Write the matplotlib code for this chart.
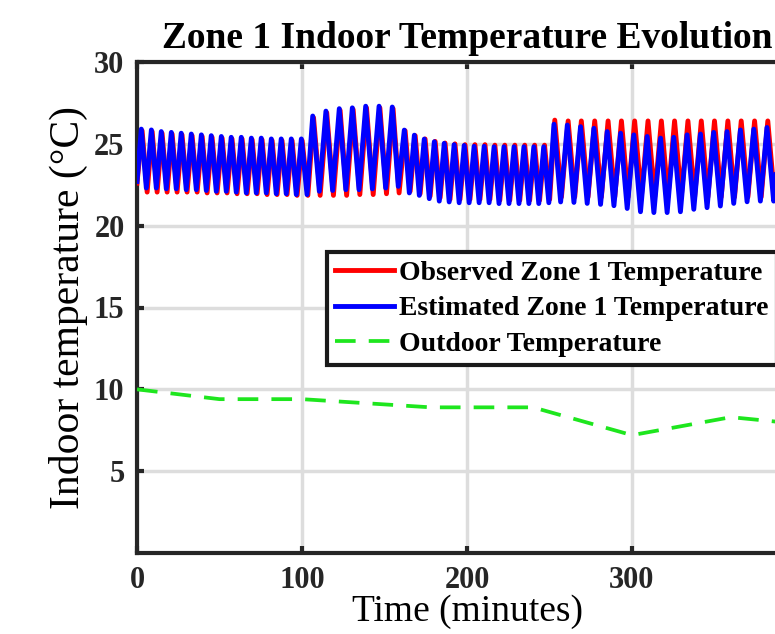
import matplotlib
matplotlib.use("Agg")
import matplotlib.pyplot as plt

plt.rcParams['font.family'] = ['Liberation Serif', 'DejaVu Serif']

# times (minutes) of each oscillation peak
peak_t = [2.6, 8.7, 14.7, 20.8, 26.8, 32.9, 39.0, 45.0, 51.1, 57.1, 63.2, 69.3, 75.3, 81.4, 87.4, 93.5, 99.6,
          106.5, 114.5, 122.6, 130.5, 138.6, 146.7, 154.7,
          162.0, 168.1, 174.1, 180.2, 186.2, 192.2, 198.3, 204.3, 210.4, 216.4, 222.4, 228.5, 234.5, 240.5, 246.5,
          252.7, 260.8, 268.8, 276.9, 285.0, 293.1, 301.1, 309.2, 317.3, 325.3, 333.4, 341.5, 349.5, 357.6,
          365.7, 373.8, 381.8, 389.9, 398.0]

# estimated zone temperature: peak and following trough of each cycle
est_start = 22.7
est_peak = [25.9, 25.85, 25.75, 25.7, 25.65, 25.6, 25.55, 25.5, 25.45, 25.4, 25.4, 25.35, 25.35, 25.3, 25.3, 25.3, 25.3,
            26.7, 27.0, 27.15, 27.2, 27.3, 27.3, 27.25,
            25.84, 25.53, 25.29, 25.13, 25.03, 24.95, 24.9, 24.85, 24.85, 24.82, 24.82, 24.82, 24.82, 24.82, 24.82,
            26.2, 26.15, 26.05, 25.95, 25.75, 25.65, 25.55, 25.45, 25.35, 25.4, 25.55, 25.6, 25.7, 25.75,
            25.85, 25.9, 26.0, 26.1, 26.1]
est_trough = [22.3, 22.3, 22.25, 22.25, 22.2, 22.2, 22.15, 22.1, 22.1, 22.05, 22.0, 22.0, 22.0, 21.95, 21.95, 21.9, 21.9,
              22.1, 22.15, 22.2, 22.2, 22.25, 22.3, 22.4,
              22.0, 21.85, 21.65, 21.5, 21.45, 21.4, 21.4, 21.4, 21.4, 21.35, 21.35, 21.35, 21.35, 21.35, 21.4,
              21.45, 21.42, 21.36, 21.3, 21.22, 21.05, 20.85, 20.8, 20.8, 20.85, 21.0, 21.1, 21.2, 21.36,
              21.46, 21.5, 21.5, 21.55, 21.55]

# observed zone temperature (lags the estimate slightly)
obs_lag = 0.5
obs_start = 22.6
obs_peak = [25.8, 25.75, 25.65, 25.6, 25.55, 25.5, 25.45, 25.4, 25.35, 25.3, 25.3, 25.25, 25.25, 25.2, 25.2, 25.2, 25.2,
            26.6, 26.9, 27.05, 27.1, 27.2, 27.2, 27.15,
            25.8, 25.5, 25.3, 25.15, 25.05, 25.0, 24.95, 24.95, 24.95, 24.92, 24.92, 24.92, 24.92, 24.92, 24.92,
            26.45, 26.4, 26.4, 26.4, 26.4, 26.4, 26.4, 26.4, 26.4, 26.4, 26.4, 26.4, 26.4, 26.4,
            26.4, 26.4, 26.4, 26.4, 26.4]
obs_trough = [22.05, 22.05, 22.05, 22.05, 22.05, 22.05, 22.0, 22.0, 22.0, 21.95, 21.95, 21.95, 21.9, 21.9, 21.9, 21.85, 21.85,
              21.85, 21.85, 21.85, 21.9, 21.9, 21.95, 22.0,
              22.1, 21.95, 21.8, 21.7, 21.6, 21.6, 21.6, 21.6, 21.6, 21.55, 21.55, 21.55, 21.55, 21.55, 21.6,
              21.75, 21.75, 21.75, 21.75, 21.75, 21.75, 21.75, 21.75, 21.75, 21.75, 21.75, 21.75, 21.75, 21.75,
              21.75, 21.75, 21.75, 21.75, 21.75]

# outdoor temperature
out_t = [0, 50, 100, 178, 240, 300, 360, 400]
out_v = [10.0, 9.4, 9.4, 8.9, 8.9, 7.2, 8.3, 7.9]

xticks = [0, 100, 200, 300]
yticks = [5, 10, 15, 20, 25, 30]


def zigzag(start, peaks, troughs, shift=0.0):
    t = [0.0]
    v = [start]
    for i, tp in enumerate(peak_t):
        nxt = peak_t[i + 1] if i + 1 < len(peak_t) else tp + 8
        t.append(tp + shift)
        v.append(peaks[i])
        t.append((tp + nxt) / 2 + shift)
        v.append(troughs[i])
    return t, v


fig = plt.figure(figsize=(7.75, 6.34), dpi=100)
ax = fig.add_axes([137 / 775, 81 / 634, 660 / 775, 491 / 634])

obs_t, obs_v = zigzag(obs_start, obs_peak, obs_trough, obs_lag)
est_t, est_v = zigzag(est_start, est_peak, est_trough)

ax.plot(obs_t, obs_v, color='#ff0000', lw=3.5, solid_joinstyle='round',
        label='Observed Zone 1 Temperature', zorder=3)
ax.plot(est_t, est_v, color='#0000ff', lw=3.5, solid_joinstyle='round',
        label='Estimated Zone 1 Temperature', zorder=4)
ax.plot(out_t, out_v, color='#1ee61e', lw=2.7, ls=(0, (5.5, 3.5)),
        label='Outdoor Temperature', zorder=3)

ax.set_xlim(0, 400)
ax.set_ylim(0, 30)
ax.set_xticks(xticks)
ax.set_yticks(yticks)
ax.grid(True, color='#dddddd', lw=2.5)
ax.set_axisbelow(True)

for sp in ax.spines.values():
    sp.set_linewidth(3)
    sp.set_color('#262626')
ax.tick_params(direction='in', length=5, width=3, color='#262626',
               top=True, right=True, labelsize=22)
ax.tick_params(axis='x', pad=9)
ax.tick_params(axis='y', pad=9)
for lab in ax.get_xticklabels() + ax.get_yticklabels():
    lab.set_fontweight('bold')
    lab.set_color('#262626')

ax.set_title('Zone 1 Indoor Temperature Evolution', fontsize=27, fontweight='bold', pad=10)
ax.set_ylabel('Indoor temperature (°C)', fontsize=30, labelpad=4)
ax.set_xlabel('Time (minutes)', fontsize=27, labelpad=0)

leg = ax.legend(loc='upper left', bbox_to_anchor=(0.288, 0.613), borderaxespad=0,
                fancybox=False, framealpha=1, edgecolor='#1a1a1a',
                prop={'size': 20, 'weight': 'bold'}, handlelength=2.1,
                handletextpad=0.2, borderpad=0.3, labelspacing=0.36)
leg.get_frame().set_linewidth(3)

fig.savefig('out.png', dpi=100)
